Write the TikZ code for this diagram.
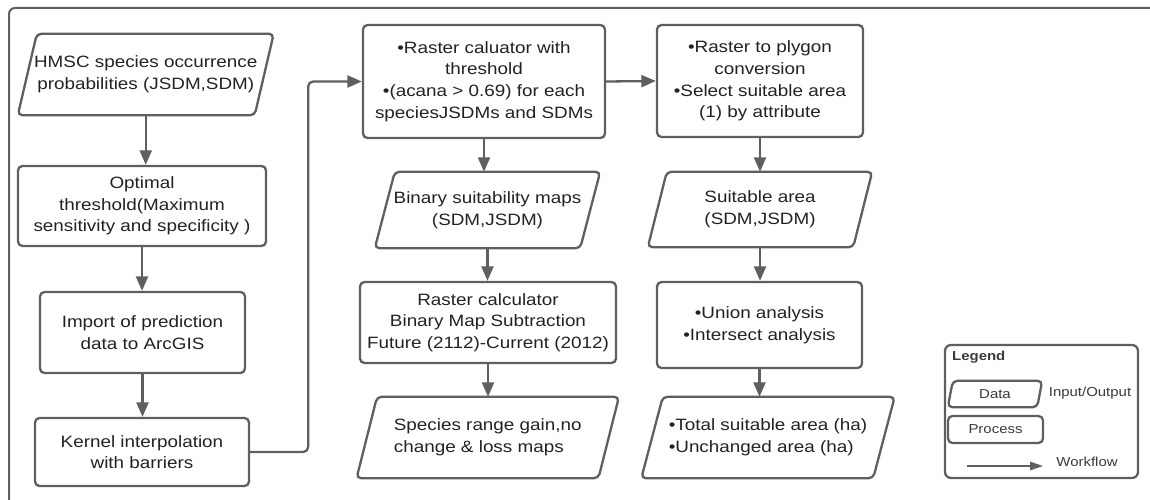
\documentclass[tikz,border=0pt]{standalone}
\usepackage{fontspec}
\setmainfont{Liberation Sans}[FakeStretch=1.15]
\usetikzlibrary{arrows.meta}
\definecolor{linegray}{HTML}{5F5F5F}
\definecolor{txt}{HTML}{222222}
\definecolor{legtxt}{HTML}{3A3A3A}
\tikzset{
  boxline/.style={draw=linegray, line width=2.3pt, rounded corners=4.5pt},
  mainfont/.style={font=\fontsize{16.4}{21.7}\selectfont, text=txt},
  legfont/.style={font=\fontsize{13}{15}\selectfont, text=legtxt},
  proc/.style={boxline, rectangle, align=center, inner sep=0pt, mainfont},
  data/.style={rectangle, draw=none, align=center, inner sep=0pt, mainfont},
  flow/.style={draw=linegray, line width=2.3pt, -{Triangle[length=14.5pt,width=12pt]}},
  flowthin/.style={draw=linegray, line width=1.5pt, -{Triangle[length=13pt,width=8.5pt]}},
}
\newcommand\paraframe[2]{\draw[boxline] ([xshift=-#2]#1.south west) -- ([xshift=#2]#1.north west) -- ([xshift=#2]#1.north east) -- ([xshift=-#2]#1.south east) -- cycle;}
\begin{document}
\begin{tikzpicture}[x=1pt, y=-1pt]
\clip (0,0) rectangle (1150,500);
% outer frame (cropped)
\draw[draw=linegray, line width=2pt, rounded corners=6pt] (1165,8) -- (9,8) -- (9,515);

% column 1
\node[data, minimum width=236.5, minimum height=81] (hmsc) at (145.75,74.5) {HMSC species occurrence\\probabilities (JSDM,SDM)};
\paraframe{hmsc}{9.5}
\node[proc, minimum width=248, minimum height=80] (opt) at (142,206) {Optimal\\threshold(Maximum\\sensitivity and specificity )};
\node[proc, minimum width=205, minimum height=81] (imp) at (142.5,332.5) {Import of prediction\\data to ArcGIS};
\node[proc, minimum width=214, minimum height=68] (kern) at (142,452) {Kernel interpolation\\with barriers};

% column 2
\node[proc, minimum width=242, minimum height=113] (rast) at (484,81.5) {•Raster caluator with\\threshold\\•(acana > 0.69) for each\\speciesJSDMs and SDMs};
\node[data, minimum width=205, minimum height=76] (bin) at (487.5,210) {Binary suitability maps\\(SDM,JSDM)};
\paraframe{bin}{10}
\node[proc, minimum width=256, minimum height=81] (calc) at (488,322.5) {Raster calculator\\Binary Map Subtraction\\Future (2112)-Current (2012)};
\node[data, minimum width=241.5, minimum height=81] (spec) at (487.75,437.5) {\begin{tabular}{@{}l@{}}Species range gain,no\\change \& loss maps\end{tabular}};
\paraframe{spec}{10.25}

% column 3
\node[proc, minimum width=206, minimum height=112] (poly) at (760,81) {•Raster to plygon\\conversion\\•Select suitable area\\(1) by attribute};
\node[data, minimum width=205, minimum height=75] (suit) at (760,209.5) {Suitable area\\(SDM,JSDM)};
\paraframe{suit}{9.5}
\node[proc, minimum width=205, minimum height=86] (union) at (759.5,325) {•Union analysis\\•Intersect analysis};
\node[data, minimum width=231.5, minimum height=81] (total) at (768,437.5) {\begin{tabular}{@{}l@{}}•Total suitable area (ha)\\•Unchanged area (ha)\end{tabular}};
\paraframe{total}{10.75}

% connectors
\draw[flow] (hmsc.south) -- (hmsc.south |- opt.north);
\draw[flow] (opt.south) -- (opt.south |- imp.north);
\draw[flow] (imp.south) -- (imp.south |- kern.north);
\draw[flow, rounded corners=5pt] (kern.east) -- ++(58,0) |- (rast.west);
\draw[flow] (rast.east) -- (poly.west);
\draw[flow] (rast.south) -- (rast.south |- bin.north);
\draw[flow] (bin.south) -- (bin.south |- calc.north);
\draw[flow] (calc.south) -- (calc.south |- spec.north);
\draw[flow] (poly.south) -- (poly.south |- suit.north);
\draw[flow] (suit.south) -- (suit.south |- union.north);
\draw[flow] (union.south) -- (union.south |- total.north);

% legend
\node[boxline, rectangle, rounded corners=6pt, minimum width=193, minimum height=133, inner sep=0pt] (leg) at (1041.5,411.5) {};
\node[legfont, font=\bfseries\fontsize{13}{15}\selectfont, anchor=west, inner sep=0pt] (legt) at (952,357) {Legend};
\node[rectangle, draw=none, inner sep=0pt, minimum width=89, minimum height=26, legfont] (ldata) at (995,394) {Data};
\paraframe{ldata}{2.5}
\node[boxline, rectangle, inner sep=0pt, minimum width=95, minimum height=27, legfont] (lproc) at (995.5,429.5) {Process};
\node[legfont, inner sep=0pt] (lio) at (1090,393) {Input/Output};
\coordinate (wf1) at (967,466);
\coordinate (wf2) at (1043,466);
\draw[flowthin] (wf1) -- (wf2);
\node[legfont, inner sep=0pt] (lwf) at (1087,462) {Workflow};
\end{tikzpicture}
\end{document}
